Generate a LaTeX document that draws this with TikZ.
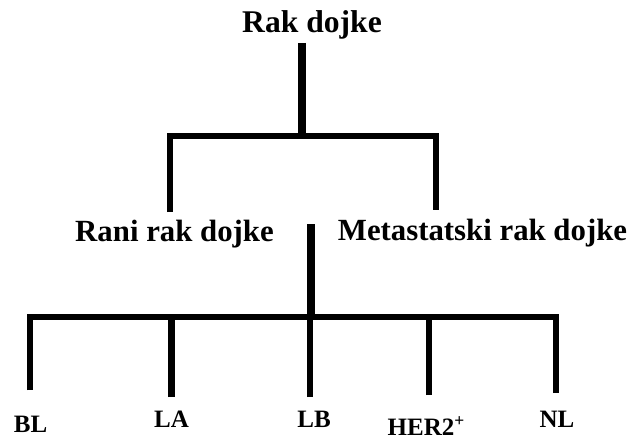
\documentclass[tikz,border=0pt]{standalone}
\usepackage{fontspec}
\setmainfont{Liberation Serif}
\usetikzlibrary{positioning}

\begin{document}
\begin{tikzpicture}[x=0.5pt, y=-0.5pt,
                    root/.style={anchor=base, inner sep=0pt, font=\fontsize{15.8}{18}\selectfont\bfseries},
                    sub/.style={anchor=base, inner sep=0pt, font=\fontsize{15.4}{18}\selectfont\bfseries},
                    leaf/.style={anchor=base, inner sep=0pt, font=\fontsize{12.5}{15}\selectfont\bfseries},
                    bar/.style={line width=3.4pt, miter limit=10},
                    thickbar/.style={line width=4pt}]
                \useasboundingbox (0,0) rectangle (636,438);
                % labels
                \node[root] (rak) at (312,33) {Rak dojke};
                \node[sub] (rani) at (174.5,242) {Rani rak dojke};
                \node[sub] (meta) at (482.5,240) {Metastatski rak dojke};
                % upper level
                \coordinate (upbar) at (0,136);
                \coordinate (raktop) at (302,43);
                \coordinate (raniend) at (170,212);
                \coordinate (metaend) at (436,210);
                \draw[thickbar] (raktop) -- (raktop |- upbar);
                \draw[bar] (raniend) -- (raniend |- upbar) -- (metaend |- upbar) -- (metaend);
                % lower level
                \coordinate (lowbar) at (0,317);
                \coordinate (midtop) at (311,224);
                \draw[thickbar] (midtop) -- (midtop |- lowbar);
                \foreach \n/\tx/\ty/\sx/\se/\t in {bl/30.5/432/30/390/BL, la/171.5/427/171.5/397/LA,
                        lb/314/427/310/397/LB, her/426.5/435/429/395/HER2\textsuperscript{+}, nl/557/427/556/393/NL}{
                        \node[leaf] (\n) at (\tx,\ty) {\t};
                        \coordinate (\n-end) at (\sx,\se);
                        \draw[bar] (\n-end) -- (\n-end |- lowbar);
                    }
                \draw[bar] (bl-end) -- (bl-end |- lowbar) -- (nl-end |- lowbar) -- (nl-end);
            \end{tikzpicture}
\end{document}
